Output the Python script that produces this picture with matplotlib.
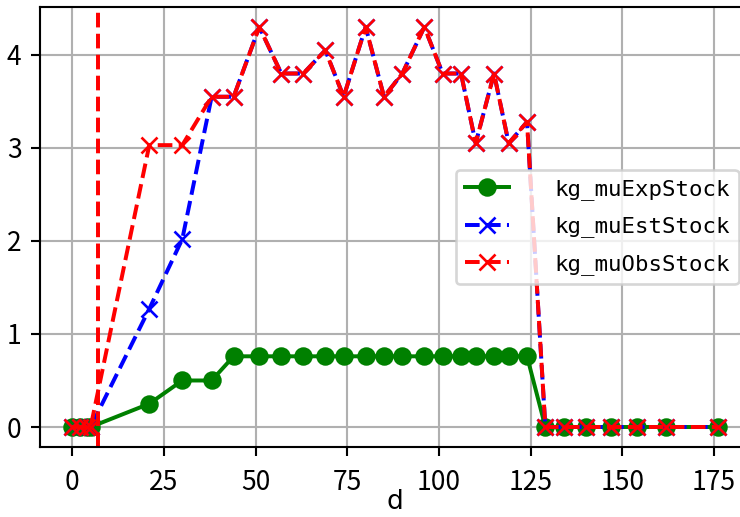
import numpy as np
import matplotlib
matplotlib.use('Agg')
import matplotlib.pyplot as plt

plt.rcParams['font.family'] = ['Noto Sans CJK SC', 'DejaVu Sans']
plt.rcParams['axes.unicode_minus'] = False

# 数据
d = [0, 2, 4, 5, 21, 30, 38, 44, 51, 57, 63, 69, 74, 80, 85, 90, 96, 101, 106,
     110, 115, 119, 124, 129, 134, 140, 147, 154, 162, 176]
kg_muExpStock = [0, 0, 0, 0, 0.25, 0.5, 0.5, 0.76, 0.76, 0.76, 0.76, 0.76, 0.76,
                 0.76, 0.76, 0.76, 0.76, 0.76, 0.76, 0.76, 0.76, 0.76, 0.76,
                 0, 0, 0, 0, 0, 0, 0]
kg_muEstStock = [0, 0, 0, 0, 1.27, 2.02, 3.55, 3.55, 4.3, 3.8, 3.8, 4.05, 3.55,
                 4.3, 3.55, 3.8, 4.3, 3.8, 3.8, 3.05, 3.8, 3.05, 3.28,
                 0, 0, 0, 0, 0, 0, 0]
kg_muObsStock = [0, 0, 0, 0, 3.03, 3.03, 3.55, 3.55, 4.3, 3.8, 3.8, 4.05, 3.55,
                 4.3, 3.55, 3.8, 4.3, 3.8, 3.8, 3.05, 3.8, 3.05, 3.28,
                 0, 0, 0, 0, 0, 0, 0]
today = 7

fig = plt.figure(figsize=(740 / 190, 517 / 190), dpi=190)
ax = fig.add_axes([40 / 740, 70 / 517, 710 / 740, 440 / 517])

ax.plot(d, kg_muExpStock, 'g-o', label='kg_muExpStock')
ax.plot(d, kg_muEstStock, 'b--x', label='kg_muEstStock')
ax.plot(d, kg_muObsStock, 'r--x', label='kg_muObsStock')
ax.axvline(today, color='r', linestyle='--')

ax.tick_params(axis='x', pad=5)
ax.set_xlabel('d', labelpad=-3, fontfamily='DejaVu Sans')
ax.grid(True)
ax.legend(loc='center right', prop={'family': 'DejaVu Sans Mono', 'size': 8.5},
          handletextpad=2.0, labelspacing=0.75)

fig.savefig('out.png', dpi=190)
